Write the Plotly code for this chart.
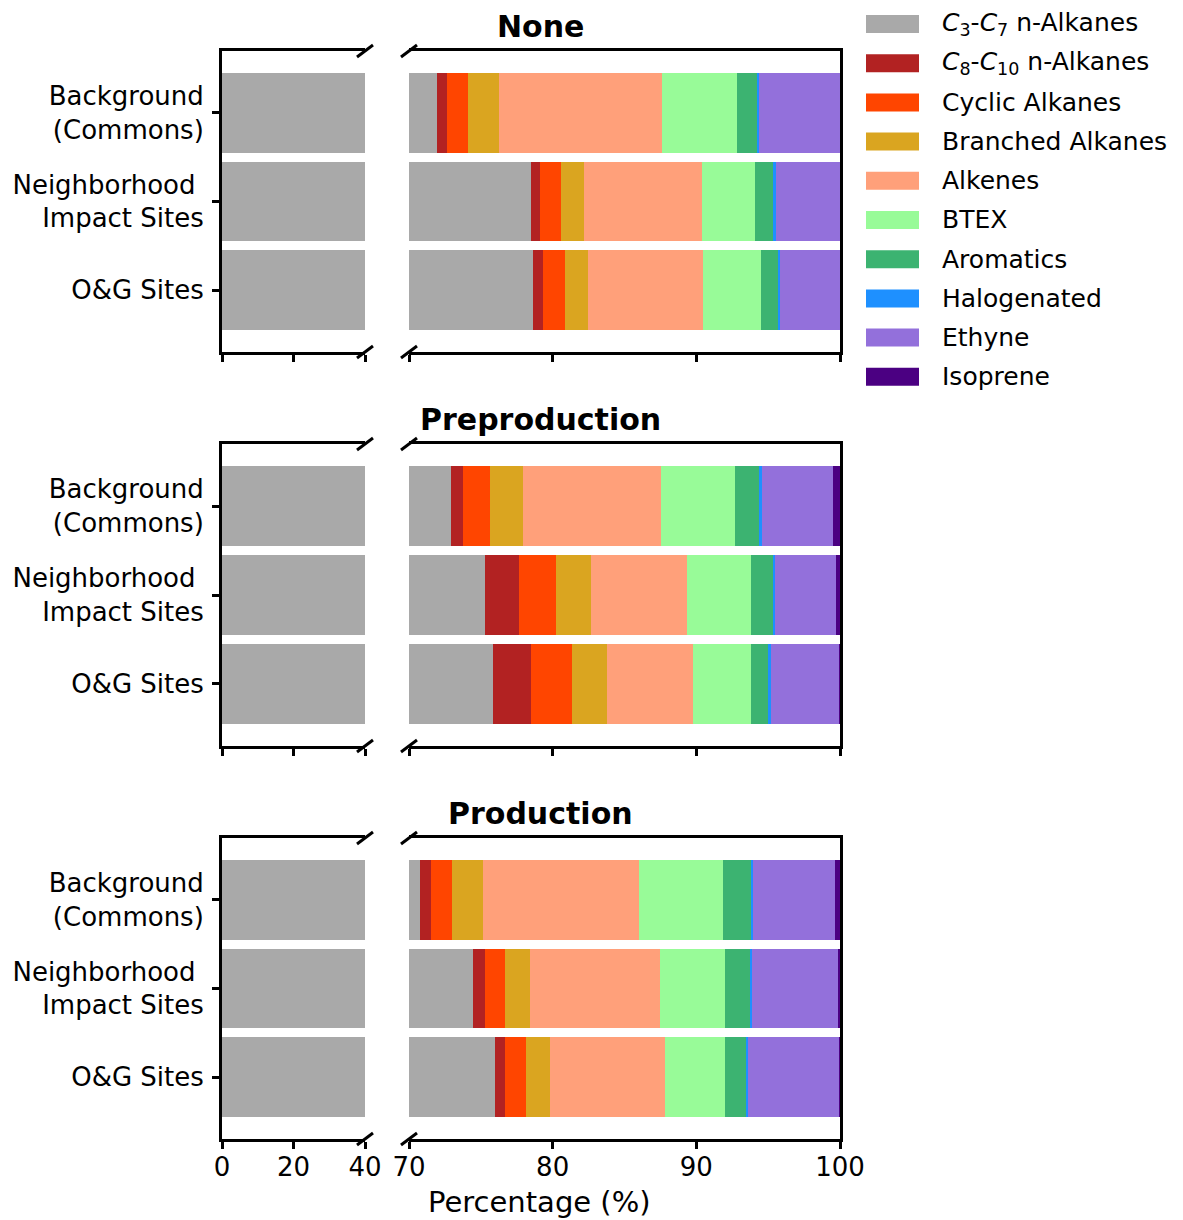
import plotly.graph_objects as go

# ---- data -------------------------------------------------------------
sites = ["Background<br>(Commons)", "Neighborhood&nbsp;<br>Impact Sites", "O&G Sites"]
panels = ["None", "Preproduction", "Production"]

groups = [
    "<i>C</i><sub>3</sub>-<i>C</i><sub>7</sub> n-Alkanes",
    "<i>C</i><sub>8</sub>-<i>C</i><sub>10</sub> n-Alkanes",
    "Cyclic Alkanes",
    "Branched Alkanes",
    "Alkenes",
    "BTEX",
    "Aromatics",
    "Halogenated",
    "Ethyne",
    "Isoprene",
]
colors = ["#A9A9A9", "#B22222", "#FF4500", "#DAA520", "#FFA07A",
          "#98FB98", "#3CB371", "#1E90FF", "#9370DB", "#4B0082"]

# percentage share of each group, rows = sites (Background, Neighborhood, O&G)
none_pct = [
    [71.97, 0.67, 1.49, 2.13, 11.35, 5.24, 1.39, 0.12, 5.64, 0.00],
    [78.49, 0.63, 1.46, 1.60, 8.21, 3.71, 1.26, 0.16, 4.48, 0.00],
    [78.61, 0.74, 1.48, 1.63, 7.97, 4.04, 1.19, 0.16, 4.18, 0.00],
]
preproduction_pct = [
    [72.90, 0.86, 1.90, 2.25, 9.63, 5.13, 1.76, 0.11, 4.99, 0.47],
    [75.29, 2.36, 2.58, 2.43, 6.66, 4.48, 1.51, 0.16, 4.22, 0.31],
    [75.87, 2.62, 2.83, 2.48, 5.99, 4.01, 1.21, 0.18, 4.76, 0.05],
]
production_pct = [
    [70.77, 0.78, 1.42, 2.20, 10.81, 5.89, 1.91, 0.14, 5.73, 0.35],
    [74.48, 0.79, 1.41, 1.76, 9.03, 4.52, 1.74, 0.14, 6.01, 0.12],
    [76.01, 0.70, 1.45, 1.67, 8.01, 4.15, 1.51, 0.12, 6.33, 0.05],
]
panel_data = [none_pct, preproduction_pct, production_pct]

left_ticks = [0, 20, 40]
right_ticks = [70, 80, 90, 100]

# ---- figure geometry ----------------------------------------------------
W, H = 1183, 1220
FONT = "DejaVu Sans"
left_dom = [222 / W, 365 / W]
right_dom = [409 / W, 840 / W]
panel_px = [(51, 352), (444, 746), (838, 1139)]
panel_dom = [[1 - b / H, 1 - t / H] for t, b in panel_px]

fig = go.Figure()
ypos = [0, 1, 2]

for p, data in enumerate(panel_data):
    xl, xr = 2 * p + 1, 2 * p + 2
    for g in range(len(groups)):
        vals = [row[g] for row in data]
        for ax in (xl, xr):
            fig.add_trace(go.Bar(
                x=vals, y=ypos, orientation="h", width=0.9,
                marker=dict(color=colors[g], line=dict(width=0)),
                xaxis=f"x{ax}", yaxis=f"y{ax}",
                showlegend=False, hoverinfo="x",
            ))

axis_common = dict(showline=True, linewidth=3, linecolor="black",
                   ticks="outside", ticklen=7, tickwidth=3, tickcolor="black",
                   showgrid=False, zeroline=False, automargin=False,
                   tickfont=dict(family=FONT, size=26, color="black"))

layout = dict(
    width=W, height=H,
    margin=dict(l=0, r=0, t=0, b=0, pad=0, autoexpand=False),
    plot_bgcolor="white", paper_bgcolor="white",
    barmode="stack", showlegend=False,
    font=dict(family=FONT, color="black"),
)

for p in range(3):
    xl, xr = 2 * p + 1, 2 * p + 2
    bottom = p == 2
    layout[f"xaxis{xl}"] = dict(axis_common, domain=left_dom, anchor=f"y{xl}",
                                range=[0, 40], tickvals=left_ticks,
                                showticklabels=bottom, mirror=True,
                                ticklabelstandoff=-4)
    layout[f"xaxis{xr}"] = dict(axis_common, domain=right_dom, anchor=f"y{xr}",
                                range=[70, 100], tickvals=right_ticks,
                                showticklabels=bottom, mirror=True,
                                ticklabelstandoff=-4)
    layout[f"yaxis{xl}"] = dict(axis_common, domain=panel_dom[p], anchor=f"x{xl}",
                                range=[2.7, -0.7], tickvals=ypos, ticktext=sites,
                                ticklabelstandoff=3)
    layout[f"yaxis{xr}"] = dict(axis_common, domain=panel_dom[p], anchor=f"x{xr}",
                                range=[2.7, -0.7], side="right", ticks="",
                                showticklabels=False)

fig.update_layout(**layout)

# ---- axis break marks ---------------------------------------------------
shapes = []
for p in range(3):
    for xa in (left_dom[1], right_dom[0]):
        for ya in panel_dom[p]:
            shapes.append(dict(
                type="line", xref="paper", yref="paper",
                xsizemode="pixel", ysizemode="pixel",
                xanchor=xa, yanchor=ya, x0=-8, x1=8, y0=-6, y1=6,
                line=dict(color="black", width=3),
            ))

# ---- legend (patches + labels) ----------------------------------------
annotations = []
for i, (name, col) in enumerate(zip(groups, colors)):
    yc = 24 + i * 39.2
    shapes.append(dict(type="rect", xref="paper", yref="paper",
                       x0=866 / W, x1=919 / W,
                       y0=1 - (yc + 9) / H, y1=1 - (yc - 9) / H,
                       fillcolor=col, line=dict(width=0)))
    annotations.append(dict(text=name, xref="paper", yref="paper",
                            x=940 / W, y=1 - yc / H, xanchor="left",
                            yanchor="middle", showarrow=False,
                            font=dict(family=FONT, size=25, color="black")))

# ---- panel titles and axis label --------------------------------------
for title, yc in zip(panels, [27, 420, 813]):
    annotations.append(dict(text=f"<b>{title}</b>", xref="paper", yref="paper",
                            x=540 / W, y=1 - yc / H, xanchor="center",
                            yanchor="middle", showarrow=False,
                            font=dict(family=FONT, size=30, color="black")))

annotations.append(dict(text="Percentage (%)", xref="paper", yref="paper",
                        x=539 / W, y=1 - 1202 / H, xanchor="center",
                        yanchor="middle", showarrow=False,
                        font=dict(family=FONT, size=29, color="black")))

fig.update_layout(shapes=shapes, annotations=annotations)

fig.write_html("out.html")
